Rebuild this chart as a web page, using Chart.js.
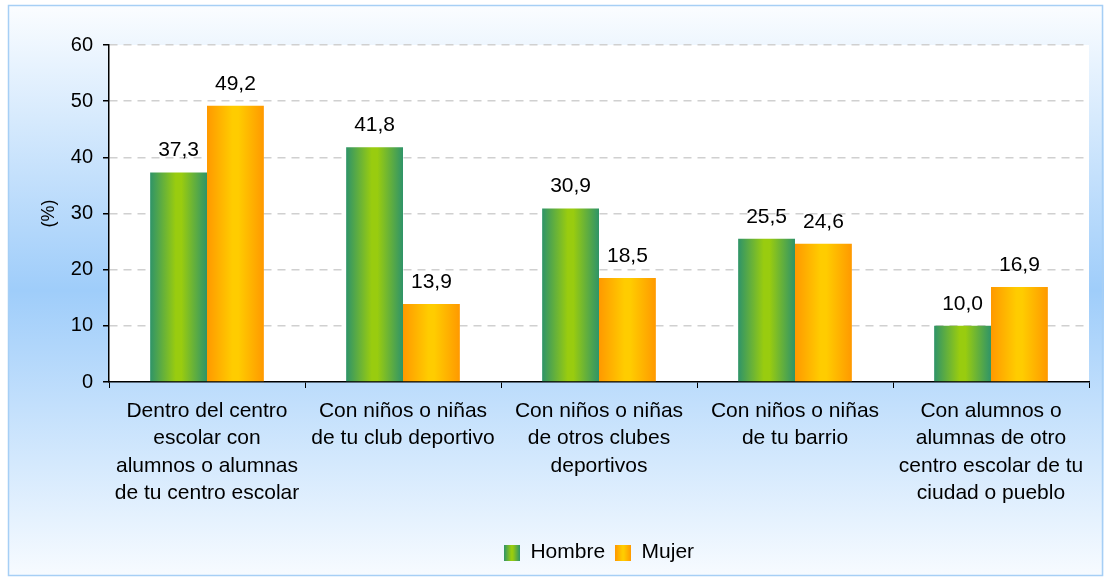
<!DOCTYPE html>
<html>
<head>
<meta charset="utf-8">
<script src="https://cdn.jsdelivr.net/npm/chart.js@4"></script>
<style>
  html, body { margin: 0; padding: 0; background: #ffffff; }
  #wrap { width: 1104px; height: 577px; position: relative; }
</style>
</head>
<body>
<div id="wrap"><canvas id="grafico"></canvas></div>
<script>
// Datos del gráfico
const categorias = [
  ['Dentro del centro', 'escolar con', 'alumnos o alumnas', 'de tu centro escolar'],
  ['Con niños o niñas', 'de tu club deportivo'],
  ['Con niños o niñas', 'de otros clubes', 'deportivos'],
  ['Con niños o niñas', 'de tu barrio'],
  ['Con alumnos o', 'alumnas de otro', 'centro escolar de tu', 'ciudad o pueblo']
];
const hombre = [37.3, 41.8, 30.9, 25.5, 10.0];
const mujer = [49.2, 13.9, 18.5, 24.6, 16.9];
const ticksY = [0, 10, 20, 30, 40, 50, 60];

const FUENTE = 'Liberation Sans, Arial, sans-serif';
const catPct = 0.58;

// Colores del degradado de cada serie (borde, centro)
const verde = ['#2f9468', '#99cc0f'];
const naranja = ['#ff9900', '#ffcc00'];

function degradado(ctx, x0, x1, cols) {
  const g = ctx.createLinearGradient(x0, 0, x1, 0);
  g.addColorStop(0, cols[0]);
  g.addColorStop(0.45, cols[1]);
  g.addColorStop(0.55, cols[1]);
  g.addColorStop(1, cols[0]);
  return g;
}

// Relleno de cada barra con degradado horizontal
function colorBarra(cols, lado) {
  return function (c) {
    const chart = c.chart;
    const x = chart.scales.x;
    if (!x || c.dataIndex === undefined) return cols[1];
    const centro = x.getPixelForValue(c.dataIndex);
    const anchoGrupo = (x.width / categorias.length) * catPct;
    const x0 = lado === 0 ? centro - anchoGrupo / 2 : centro;
    return degradado(chart.ctx, x0, x0 + anchoGrupo / 2, cols);
  };
}

// Iconos de la leyenda
function icono(cols) {
  const cv = document.createElement('canvas');
  cv.width = 16; cv.height = 16;
  const c = cv.getContext('2d');
  c.fillStyle = degradado(c, 0, 16, cols);
  c.fillRect(0, 0, 16, 16);
  return cv;
}

// Fondo y borde
const fondo = {
  id: 'fondo',
  beforeDraw(chart) {
    const ctx = chart.ctx;
    const a = chart.chartArea;
    ctx.save();
    const g = ctx.createLinearGradient(0, 5, 0, 576);
    g.addColorStop(0, '#fbfdff');
    g.addColorStop(0.5, '#9fcdfa');
    g.addColorStop(1, '#f7fbff');
    ctx.fillStyle = g;
    ctx.fillRect(8, 5, 1096, 571);
    ctx.strokeStyle = '#a6cff5';
    ctx.lineWidth = 1.5;
    ctx.strokeRect(8.5, 5.5, 1094, 570);
    ctx.fillStyle = '#ffffff';
    ctx.fillRect(a.left, a.top, a.right - a.left, a.bottom - a.top);
    ctx.restore();
  }
};

// Etiquetas de valor encima de las barras
const etiquetas = {
  id: 'etiquetas',
  afterDatasetsDraw(chart) {
    const ctx = chart.ctx;
    ctx.save();
    ctx.font = '21px ' + FUENTE;
    ctx.fillStyle = '#000000';
    ctx.textAlign = 'center';
    ctx.textBaseline = 'alphabetic';
    chart.data.datasets.forEach((ds, i) => {
      chart.getDatasetMeta(i).data.forEach((el, j) => {
        const txt = ds.data[j].toFixed(1).replace('.', ',');
        ctx.fillText(txt, el.x, el.y - 16);
      });
    });
    ctx.restore();
  }
};

const iconos = [icono(verde), icono(naranja)];

const ctx = document.getElementById('grafico').getContext('2d');
const chart = new Chart(ctx, {
  type: 'bar',
  data: {
    labels: categorias,
    datasets: [
      { label: 'Hombre', data: hombre, backgroundColor: colorBarra(verde, 0) },
      { label: 'Mujer', data: mujer, backgroundColor: colorBarra(naranja, 1) }
    ]
  },
  options: {
    responsive: true,
    maintainAspectRatio: false,
    animation: false,
    devicePixelRatio: 1,
    layout: { padding: { left: 0, right: 15, top: 45, bottom: 4 } },
    datasets: { bar: { categoryPercentage: catPct, barPercentage: 1, borderWidth: 0 } },
    scales: {
      x: {
        grid: { offset: true, drawOnChartArea: false, drawTicks: true, tickLength: 6, color: '#000000' },
        border: { color: '#000000', width: 1.5 },
        ticks: {
          color: '#000000',
          font: { family: FUENTE, size: 21, lineHeight: 1.29 },
          padding: 10,
          maxRotation: 0,
          autoSkip: false
        },
        afterFit(s) { s.height = 150; }
      },
      y: {
        min: 0,
        max: 60,
        afterBuildTicks(s) { s.ticks = ticksY.map(v => ({ value: v })); },
        grid: {
          color: c => c.tick && c.tick.value === 0 ? 'rgba(0,0,0,0)' : '#d0d0d0',
          lineWidth: 1.5,
          tickColor: '#000000',
          tickLength: 6,
          tickBorderDash: [],
          drawTicks: true
        },
        border: { color: '#000000', width: 1.5, dash: [8, 6] },
        ticks: {
          color: '#000000',
          font: { family: FUENTE, size: 20 },
          padding: 10
        },
        title: {
          display: true,
          text: '(%)',
          color: '#000000',
          font: { family: FUENTE, size: 18 },
          padding: { top: 38, bottom: 0 }
        },
        afterFit(s) { s.width = 109; }
      }
    },
    plugins: {
      legend: {
        position: 'bottom',
        fullSize: false,
        labels: {
          color: '#000000',
          font: { family: FUENTE, size: 21 },
          usePointStyle: true,
          boxWidth: 16,
          boxHeight: 16,
          padding: 10,
          generateLabels(chart) {
            return chart.data.datasets.map((ds, i) => ({
              text: ds.label,
              pointStyle: iconos[i],
              fillStyle: i === 0 ? verde[1] : naranja[1],
              strokeStyle: 'rgba(0,0,0,0)',
              lineWidth: 0,
              fontColor: '#000000',
              hidden: false,
              datasetIndex: i
            }));
          }
        }
      },
      tooltip: { enabled: false }
    }
  },
  plugins: [fondo, etiquetas]
});
</script>
</body>
</html>
